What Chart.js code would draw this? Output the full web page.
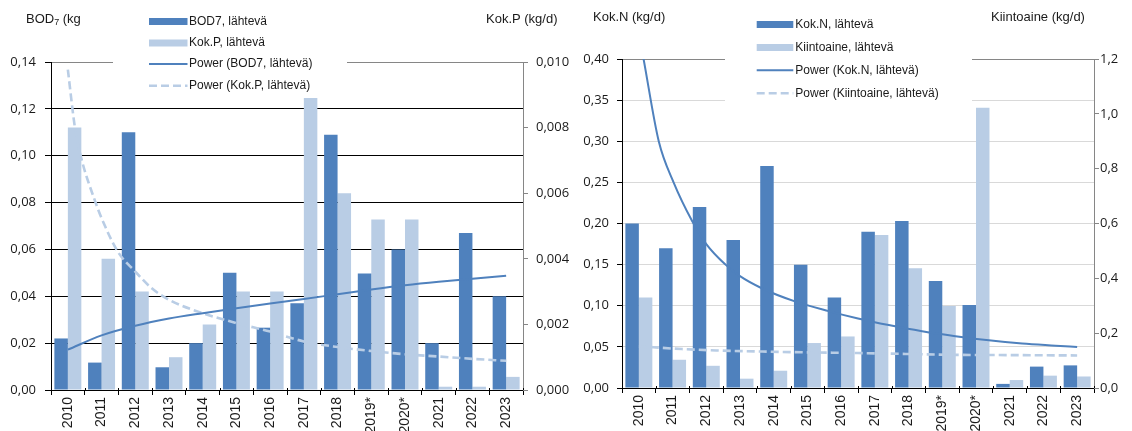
<!DOCTYPE html>
<html>
<head>
<meta charset="utf-8">
<script src="https://cdn.jsdelivr.net/npm/chart.js@4.4.1/dist/chart.umd.min.js"></script>
<style>
  html, body { margin: 0; padding: 0; background: #fff; width: 1132px; height: 431px; overflow: hidden; position: relative; }
  canvas { display: block; position: absolute; top: 0; }
  #c1, #t1 { left: 0; }
  #c2, #t2 { left: 566px; }
</style>
</head>
<body>
<canvas id="c1" width="590" height="431"></canvas>
<canvas id="t1" width="590" height="431"></canvas>
<canvas id="c2" width="566" height="431"></canvas>
<canvas id="t2" width="566" height="431"></canvas>
<script>
// ---- data ----
const years = ['2010', '2011', '2012', '2013', '2014', '2015', '2016', '2017', '2018', '2019*', '2020*', '2021', '2022', '2023'];

// left panel: BOD7 (kg/d, left axis) and Kok.P (kg/d, right axis)
const bod7 = [0.022, 0.0117, 0.110, 0.0097, 0.020, 0.050, 0.0266, 0.037, 0.109, 0.0497, 0.060, 0.020, 0.067, 0.040];
const kokP = [0.0080, 0.0040, 0.0030, 0.0010, 0.0020, 0.0030, 0.0030, 0.0089, 0.0060, 0.0052, 0.0052, 0.0001, 0.0001, 0.0004];
// power trend lines, [position in years from 2010, value]
const bod7Trend = [[0, 0.0172], [1, 0.0233], [2, 0.0274], [3, 0.0305], [4, 0.0328], [5, 0.0349], [6, 0.0369],
  [7, 0.0388], [8, 0.0409], [9, 0.0429], [10, 0.0447], [11, 0.0462], [12, 0.0475], [13, 0.0488]];
const kokPTrend = [[0, 0.00977], [0.21, 0.0080], [0.39, 0.0071], [0.81, 0.00575], [1, 0.00524], [1.48, 0.00422],
  [2, 0.00361], [2.49, 0.0031], [3, 0.00275], [4, 0.00234], [5, 0.00204], [6, 0.00178], [7, 0.00148],
  [8, 0.00131], [9, 0.00119], [10, 0.00109], [11, 0.00102], [12, 0.00095], [13, 0.00089]];

// right panel: Kok.N (kg/d, left axis) and Kiintoaine (kg/d, right axis)
const kokN = [0.20, 0.17, 0.22, 0.18, 0.27, 0.15, 0.11, 0.19, 0.203, 0.13, 0.101, 0.005, 0.026, 0.0275];
const kiinto = [0.33, 0.103, 0.081, 0.034, 0.063, 0.164, 0.188, 0.558, 0.437, 0.299, 1.022, 0.029, 0.045, 0.042];
const kokNTrend = [[0.14, 0.400], [0.59, 0.300], [1.03, 0.250], [1.58, 0.203], [2.0, 0.175], [2.57, 0.150],
  [3.0, 0.136], [3.66, 0.121], [4.65, 0.105], [5.63, 0.0935], [6.5, 0.0845], [7.41, 0.0765], [8.4, 0.0690],
  [9.39, 0.0630], [10.38, 0.0580], [11.37, 0.0542], [12.36, 0.0515], [13.0, 0.0498]];
const kiintoTrend = [[0, 0.152], [1.28, 0.142], [2.3, 0.137], [3.66, 0.133], [5, 0.130], [6.5, 0.1275],
  [8, 0.124], [9.39, 0.121], [11, 0.120], [13, 0.1187]];

// axis ticks
const bodTicks = [0, 0.02, 0.04, 0.06, 0.08, 0.10, 0.12, 0.14];
const kokPTicks = [0, 0.002, 0.004, 0.006, 0.008, 0.010];
const kokNTicks = [0, 0.05, 0.10, 0.15, 0.20, 0.25, 0.30, 0.35, 0.40];
const kiintoTicks = [0, 0.2, 0.4, 0.6, 0.8, 1.0, 1.2];

// ---- styling ----
const DARK = '#4F81BD';
const LIGHT = '#B9CDE5';
const TXT = '#1a1a1a';
const AXIS_GREY = '#868686';
const LABEL_FONT = '"Liberation Sans", Arial, sans-serif';
const TICK_FONT = '"Open Sans", "Noto Sans", sans-serif';
const H = 431;

const comma = (v, d) => v.toFixed(d).replace('.', ',');
const fixTicks = arr => scale => { scale.ticks = arr.map(v => ({ value: v })); };

function barSet(label, data, color, axis) {
  return { label, data, backgroundColor: color, borderWidth: 0, yAxisID: axis,
    categoryPercentage: 0.8, barPercentage: 1.0 };
}
function trendSet(label, pts, color, axis, dash) {
  return { label, data: pts.map(p => ({ x: p[0], y: p[1] })), borderColor: color,
    borderWidth: dash ? 2.6 : 2, borderDash: dash || [], pointRadius: 0, fill: false,
    cubicInterpolationMode: 'monotone', yAxisID: axis };
}

// legend + axis titles drawn on the canvas
function decorPlugin(cfg) {
  return {
    id: 'decor',
    beforeDatasetsDraw(chart) {
      const ctx = chart.ctx;
      const L = cfg.legend;
      ctx.save();
      ctx.fillStyle = '#fff';
      ctx.fillRect(L.box[0], 0, L.box[1] - L.box[0], L.box[2]);
      ctx.font = '12px ' + LABEL_FONT;
      ctx.textBaseline = 'middle';
      L.items.forEach((it, i) => {
        const y = L.rows[i];
        if (it.kind === 'bar') {
          ctx.fillStyle = it.color;
          ctx.fillRect(L.sx0, y - 3.5, L.sx1 - L.sx0, 7);
        } else {
          ctx.strokeStyle = it.color;
          ctx.lineWidth = it.dash ? 2.6 : 2;
          ctx.setLineDash(it.dash || []);
          ctx.beginPath();
          ctx.moveTo(L.sx0, y);
          ctx.lineTo(L.sx1, y);
          ctx.stroke();
          ctx.setLineDash([]);
        }
        ctx.fillStyle = TXT;
        ctx.fillText(it.text, L.tx, y);
      });
      ctx.restore();
    },
    afterDraw(chart) {
      const ctx = chart.ctx;
      const a = chart.chartArea;
      ctx.save();
      // small tick marks above the category axis
      ctx.strokeStyle = '#000';
      ctx.lineWidth = 1;
      const w = (a.right - a.left) / years.length;
      ctx.beginPath();
      for (let i = 0; i <= years.length; i++) {
        const x = Math.round(a.left + i * w) + 0.5;
        ctx.moveTo(x, a.bottom - 2);
        ctx.lineTo(x, a.bottom);
      }
      ctx.stroke();
      // axis titles
      ctx.fillStyle = TXT;
      ctx.textBaseline = 'middle';
      cfg.titles.forEach(t => {
        let x = t.x;
        t.parts.forEach(p => {
          ctx.font = (p.sub ? '9px ' : '13px ') + LABEL_FONT;
          ctx.fillText(p.s, x, t.y + (p.sub ? 3 : 0));
          x += ctx.measureText(p.s).width;
        });
      });
      ctx.restore();
    }
  };
}

// bars, axes, legend
function makeBarChart(canvasId, o) {
  const tickFont = { family: TICK_FONT, size: 13 };
  return new Chart(document.getElementById(canvasId), {
    type: 'bar',
    data: {
      labels: years,
      datasets: [barSet(o.names[0], o.barA, DARK, 'y'), barSet(o.names[1], o.barB, LIGHT, 'y2')]
    },
    options: {
      responsive: false,
      animation: false,
      devicePixelRatio: 1,
      layout: { padding: { top: o.area.top, left: 0, right: 0, bottom: 0 } },
      plugins: { legend: { display: false }, tooltip: { enabled: false } },
      scales: {
        x: {
          type: 'category',
          offset: true,
          grid: { offset: true, drawOnChartArea: false, drawTicks: true, tickLength: 5, color: '#000' },
          border: { color: '#000', width: 1 },
          ticks: { autoSkip: false, minRotation: 90, maxRotation: 90, padding: 2, color: TXT,
            font: { family: LABEL_FONT, size: 14 } },
          afterFit: s => { s.height = H - o.area.bottom; }
        },
        y: {
          position: 'left',
          min: 0, max: o.tickA[o.tickA.length - 1],
          afterBuildTicks: fixTicks(o.tickA),
          grid: {
            drawOnChartArea: true, drawTicks: true, tickLength: o.yTick, tickColor: '#000',
            color: c => (c.index === o.tickA.length - 1 ? AXIS_GREY : o.gridColor)
          },
          border: { color: '#000', width: 1 },
          ticks: { padding: o.yPad, color: TXT, font: tickFont, callback: v => comma(v, o.decA) },
          afterFit: s => { s.width = o.area.left; }
        },
        y2: {
          position: 'right',
          min: 0, max: o.tickB[o.tickB.length - 1],
          afterBuildTicks: fixTicks(o.tickB),
          grid: { drawOnChartArea: false, drawTicks: true, tickLength: 5, color: AXIS_GREY },
          border: { color: AXIS_GREY, width: 1 },
          ticks: { padding: o.y2Pad, color: TXT, font: tickFont, callback: v => comma(v, o.decB) },
          afterFit: s => { s.width = o.width - o.area.right; }
        }
      }
    },
    plugins: [decorPlugin(o.decor)]
  });
}

// power trend lines on a transparent layer with the same plot area and value ranges
function makeTrendChart(canvasId, o) {
  return new Chart(document.getElementById(canvasId), {
    type: 'line',
    data: {
      datasets: [
        trendSet(o.names[2], o.trendA, DARK, 'y', null),
        trendSet(o.names[3], o.trendB, LIGHT, 'y2', [8, 4])
      ]
    },
    options: {
      responsive: false,
      animation: false,
      devicePixelRatio: 1,
      layout: { padding: { top: o.area.top, left: o.area.left, right: o.width - o.area.right, bottom: H - o.area.bottom } },
      plugins: { legend: { display: false }, tooltip: { enabled: false } },
      scales: {
        x: { type: 'linear', display: false, offset: false, min: -0.5, max: years.length - 0.5 },
        y: { display: false, position: 'left', min: 0, max: o.tickA[o.tickA.length - 1] },
        y2: { display: false, position: 'right', min: 0, max: o.tickB[o.tickB.length - 1] }
      }
    }
  });
}

const leftPanel = {
  names: ['BOD7, lähtevä', 'Kok.P, lähtevä', 'Power (BOD7, lähtevä)', 'Power (Kok.P, lähtevä)'],
  barA: bod7, barB: kokP, trendA: bod7Trend, trendB: kokPTrend,
  tickA: bodTicks, tickB: kokPTicks, decA: 2, decB: 3,
  width: 590,
  area: { left: 51, right: 523, top: 62, bottom: 390 },
  gridColor: '#000', yTick: 6, yPad: 9, y2Pad: 8,
  decor: {
    legend: {
      box: [113, 347, 96], sx0: 149, sx1: 187.5, tx: 189, rows: [21.5, 43, 64, 85.7],
      items: [
        { kind: 'bar', color: DARK, text: 'BOD7, lähtevä' },
        { kind: 'bar', color: LIGHT, text: 'Kok.P, lähtevä' },
        { kind: 'line', color: DARK, text: 'Power (BOD7, lähtevä)' },
        { kind: 'line', color: LIGHT, dash: [8, 4], text: 'Power (Kok.P, lähtevä)' }
      ]
    },
    titles: [
      { x: 26, y: 19.5, parts: [{ s: 'BOD' }, { s: '7', sub: true }, { s: ' (kg' }] },
      { x: 486, y: 19.5, parts: [{ s: 'Kok.P (kg/d)' }] }
    ]
  }
};

const rightPanel = {
  names: ['Kok.N, lähtevä', 'Kiintoaine, lähtevä', 'Power (Kok.N, lähtevä)', 'Power (Kiintoaine, lähtevä)'],
  barA: kokN, barB: kiinto, trendA: kokNTrend, trendB: kiintoTrend,
  tickA: kokNTicks, tickB: kiintoTicks, decA: 2, decB: 1,
  width: 566,
  area: { left: 56, right: 528, top: 59, bottom: 388 },
  gridColor: '#d9d9d9', yTick: 5, yPad: 8, y2Pad: 1,
  decor: {
    legend: {
      box: [159, 406, 106], sx0: 190.7, sx1: 227.3, tx: 229.3, rows: [24.5, 47.5, 70.2, 93.3],
      items: [
        { kind: 'bar', color: DARK, text: 'Kok.N, lähtevä' },
        { kind: 'bar', color: LIGHT, text: 'Kiintoaine, lähtevä' },
        { kind: 'line', color: DARK, text: 'Power (Kok.N, lähtevä)' },
        { kind: 'line', color: LIGHT, dash: [8, 4], text: 'Power (Kiintoaine, lähtevä)' }
      ]
    },
    titles: [
      { x: 27, y: 17, parts: [{ s: 'Kok.N (kg/d)' }] },
      { x: 425, y: 17, parts: [{ s: 'Kiintoaine (kg/d)' }] }
    ]
  }
};

makeBarChart('c1', leftPanel);
makeTrendChart('t1', leftPanel);
makeBarChart('c2', rightPanel);
makeTrendChart('t2', rightPanel);
</script>
</body>
</html>
